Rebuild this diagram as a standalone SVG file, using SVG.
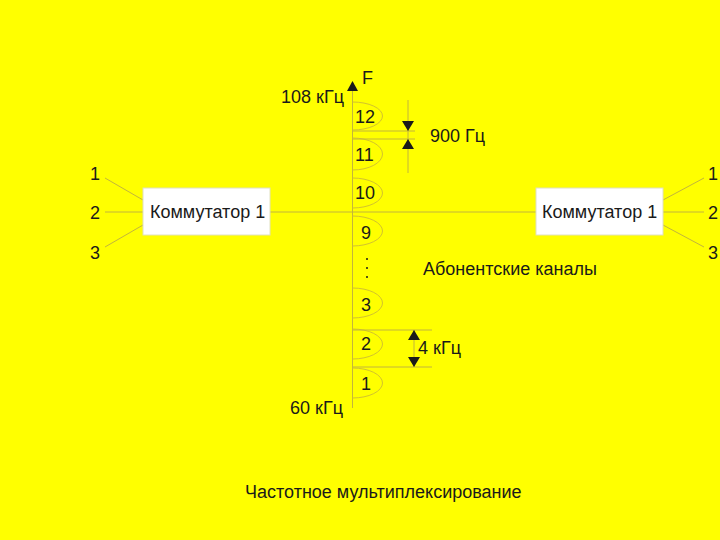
<svg xmlns="http://www.w3.org/2000/svg" width="720" height="540" viewBox="0 0 720 540">
<style>
text{font-family:"Liberation Sans",Arial,sans-serif;font-size:18px;fill:#1a1a1a}
.ln{stroke:#C2B53C;stroke-width:1;fill:none}
.ch{stroke:#D2C22E;stroke-width:1;fill:none}
.box{fill:#ffffff;stroke:#E0E0C0;stroke-width:1}
.ah{fill:#1a1a1a}
</style>
<rect x="0" y="0" width="720" height="540" fill="#FFFF00"/>
<g id="connectors">
<line class="ln" x1="105" y1="178" x2="143" y2="200"/>
<line class="ln" x1="105" y1="212" x2="143" y2="212"/>
<line class="ln" x1="105" y1="247" x2="143" y2="225"/>
<line class="ln" x1="270" y1="212" x2="536" y2="212"/>
<line class="ln" x1="663" y1="200" x2="704" y2="178"/>
<line class="ln" x1="663" y1="212" x2="704" y2="212"/>
<line class="ln" x1="663" y1="225" x2="704" y2="247"/>
</g>
<g id="axis">
<line class="ln" x1="352.5" y1="88" x2="352.5" y2="408"/>
<polygon class="ah" points="352.5,81 347,91 358,91"/>
<text x="362" y="84">F</text>
<text x="281" y="103">108 кГц</text>
<text x="290" y="414">60 кГц</text>
</g>
<g id="channels">
<path class="ch" d="M352.5,102 A30,14 0 0 1 352.5,130"/>
<path class="ch" d="M352.5,138 A30,16 0 0 1 352.5,170"/>
<path class="ch" d="M352.5,178 A30,15 0 0 1 352.5,208"/>
<path class="ch" d="M352.5,216 A30,15 0 0 1 352.5,246"/>
<path class="ch" d="M352.5,288 A30,15 0 0 1 352.5,318"/>
<path class="ch" d="M352.5,329 A30,15 0 0 1 352.5,359"/>
<path class="ch" d="M352.5,368 A30,15 0 0 1 352.5,398"/>
<text x="355" y="123">12</text>
<text x="355" y="161">11</text>
<text x="355" y="199">10</text>
<text x="361" y="239">9</text>
<text x="361" y="311">3</text>
<text x="361" y="350">2</text>
<text x="361" y="390">1</text>
<circle cx="367" cy="259" r="1" fill="#1a1a1a"/>
<circle cx="367" cy="268" r="1" fill="#1a1a1a"/>
<circle cx="367" cy="277" r="1" fill="#1a1a1a"/>
</g>
<g id="dim900">
<line class="ln" x1="352.5" y1="131" x2="415" y2="131"/>
<line class="ln" x1="352.5" y1="139" x2="415" y2="139"/>
<line class="ln" x1="408" y1="100" x2="408" y2="173"/>
<polygon class="ah" points="408,131 402,121 414,121"/>
<polygon class="ah" points="408,139 402,149 414,149"/>
<text x="430" y="142">900 Гц</text>
</g>
<g id="dim4">
<line class="ln" x1="352.5" y1="330" x2="432" y2="330"/>
<line class="ln" x1="352.5" y1="367" x2="432" y2="367"/>
<line class="ln" x1="414" y1="330" x2="414" y2="367"/>
<polygon class="ah" points="414,330 408,340 420,340"/>
<polygon class="ah" points="414,367 408,357 420,357"/>
<text x="418" y="354">4 кГц</text>
</g>
<g id="left-switch">
<rect class="box" x="143" y="188" width="127" height="47"/>
<text x="150" y="218">Коммутатор 1</text>
</g>
<g id="right-switch">
<rect class="box" x="536" y="188" width="127" height="47"/>
<text x="542" y="218">Коммутатор 1</text>
</g>
<g id="inputs-left">
<text x="90" y="180">1</text>
<text x="90" y="219">2</text>
<text x="90" y="259">3</text>
</g>
<g id="inputs-right">
<text x="708" y="180">1</text>
<text x="708" y="219">2</text>
<text x="708" y="259">3</text>
</g>
<text x="423" y="275">Абонентские каналы</text>
<text x="245" y="498">Частотное мультиплексирование</text>
</svg>
